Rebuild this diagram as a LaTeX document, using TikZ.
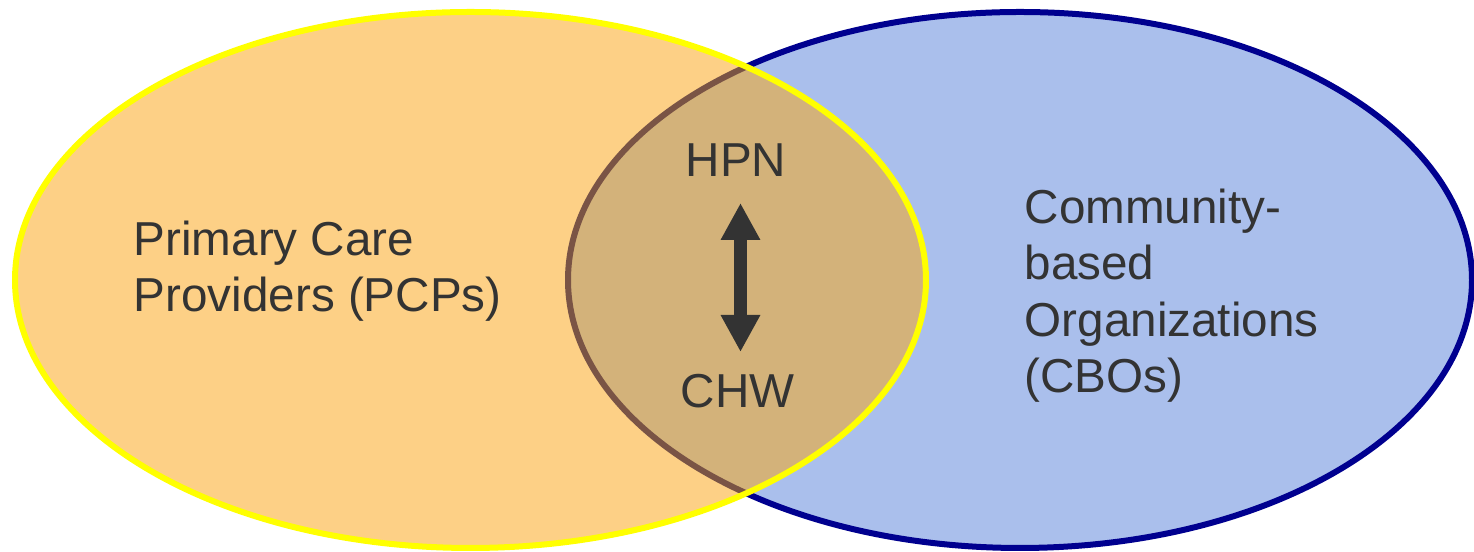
\documentclass[tikz,border=0pt]{standalone}
\usepackage{fontspec}
\setmainfont{Liberation Sans}
\usetikzlibrary{arrows.meta}
\definecolor{pcpfill}{HTML}{FDD086}
\definecolor{pcpline}{HTML}{FFFF00}
\definecolor{cbofill}{HTML}{AABFEC}
\definecolor{cboline}{HTML}{00008F}
\definecolor{overlapfill}{HTML}{D3B27A}
\definecolor{overlapline}{HTML}{7A5445}
\definecolor{labelgray}{HTML}{333333}
\begin{document}
\begin{tikzpicture}[
        lbl/.style={font=\fontsize{13.55}{16.1}\selectfont, text=labelgray, inner sep=0pt},
        dblarrow/.style={labelgray, line width=0.13cm,
            {Triangle[length=0.37cm,width=0.37cm]}-{Triangle[length=0.37cm,width=0.37cm]}}
    ]
    \useasboundingbox (0,0) rectangle (14.74,5.52);
    % the two circles of the diagram
    \draw[cboline, line width=0.06cm, fill=cbofill] (10.20,2.72) ellipse [x radius=4.52, y radius=2.68];
    \fill[pcpfill] (4.705,2.72) ellipse [x radius=4.555, y radius=2.68];
    % the part they share
    \begin{scope}
        \clip (4.705,2.72) ellipse [x radius=4.555, y radius=2.68];
        \draw[overlapline, line width=0.06cm, fill=overlapfill] (10.20,2.72) ellipse [x radius=4.52, y radius=2.68];
    \end{scope}
    \draw[pcpline, line width=0.06cm] (4.705,2.72) ellipse [x radius=4.555, y radius=2.68];
    % labels (base = last line)
    \node[lbl, anchor=base west, align=left] (pcp) at (1.33,2.403) {Primary Care\\Providers (PCPs)};
    \node[lbl, anchor=base west, align=left] (cbo) at (10.24,1.59) {Community-\\based\\Organizations\\(CBOs)};
    \node[lbl, anchor=base] (hpn) at (7.36,3.753) {HPN};
    \node[lbl, anchor=base] (chw) at (7.375,1.44) {CHW};
    \draw[dblarrow] ([xshift=0.045cm, yshift=-0.263cm]hpn.base) -- ([xshift=0.03cm, yshift=0.56cm]chw.base);
\end{tikzpicture}
\end{document}
